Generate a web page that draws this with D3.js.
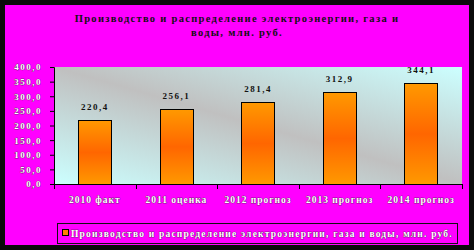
<!DOCTYPE html>
<html>
<head>
<meta charset="utf-8">
<script src="https://cdn.jsdelivr.net/npm/d3@7"></script>
<style>
  body { margin:0; padding:0; background:#000; }
  svg { display:block; }
  .lbl { font-family:"Liberation Serif", serif; font-weight:bold; }
</style>
</head>
<body>
<div id="chart"></div>
<script>
var categories = ["2010 факт", "2011 оценка", "2012 прогноз", "2013 прогноз", "2014 прогноз"];
var values = [220.4, 256.1, 281.4, 312.9, 344.1];
var y_ticks = [0, 50, 100, 150, 200, 250, 300, 350, 400];
var title_lines = ["Производство и распределение электроэнергии, газа и", "воды, млн. руб."];
var series_name = "Производство и распределение электроэнергии, газа и воды, млн. руб.";

var width = 474, height = 250;
var plot_left = 54, plot_right = 462, plot_top = 67, plot_bottom = 184;

var svg = d3.select("#chart").append("svg")
    .attr("width", width)
    .attr("height", height);

var defs = svg.append("defs");

// plot area background: cyan corners, grey diagonal
var bg = defs.append("linearGradient").attr("id", "bg")
    .attr("x1", 0).attr("y1", 1).attr("x2", 1).attr("y2", 0);
bg.append("stop").attr("offset", 0).attr("stop-color", "#ccffff");
bg.append("stop").attr("offset", 0.5).attr("stop-color", "#c0c0c0");
bg.append("stop").attr("offset", 1).attr("stop-color", "#ccffff");

var bar_grad = defs.append("linearGradient").attr("id", "bar")
    .attr("x1", 0).attr("y1", 0).attr("x2", 0).attr("y2", 1);
bar_grad.append("stop").attr("offset", 0).attr("stop-color", "#ff9900");
bar_grad.append("stop").attr("offset", 0.5).attr("stop-color", "#ff6600");
bar_grad.append("stop").attr("offset", 1).attr("stop-color", "#ff9900");

svg.append("rect")
    .attr("x", 0).attr("y", 0)
    .attr("width", width).attr("height", height)
    .attr("fill", "#0a0a0a");
svg.append("rect")
    .attr("x", 5).attr("y", 5)
    .attr("width", 464).attr("height", 240)
    .attr("fill", "#ff00ff");

// title
svg.append("text")
    .attr("class", "lbl")
    .attr("text-anchor", "middle")
    .attr("font-size", 10.5)
    .attr("letter-spacing", 1.3)
    .attr("fill", "#111")
    .selectAll("tspan")
    .data(title_lines)
    .enter().append("tspan")
        .attr("x", 237)
        .attr("y", function(d, i) { return 22 + i * 14; })
        .text(function(d) { return d; });

var x = d3.scaleBand()
    .domain(categories)
    .range([plot_left, plot_right])
    .paddingInner(0.59)
    .paddingOuter(0.295);

var y = d3.scaleLinear()
    .domain([0, 400])
    .range([plot_bottom, plot_top]);

svg.append("rect")
    .attr("x", plot_left).attr("y", plot_top)
    .attr("width", plot_right - plot_left).attr("height", plot_bottom - plot_top)
    .attr("fill", "url(#bg)");

svg.selectAll(".bar")
    .data(values)
    .enter().append("rect")
        .attr("class", "bar")
        .attr("x", function(d, i) { return Math.round(x(categories[i])) + 0.5; })
        .attr("y", function(d) { return Math.round(y(d)) + 0.5; })
        .attr("width", Math.round(x.bandwidth()))
        .attr("height", function(d) { return plot_bottom - Math.round(y(d)); })
        .attr("fill", "url(#bar)")
        .attr("stroke", "#000")
        .attr("stroke-width", 1);

var fmt = function(v) { return d3.format(".1f")(v).replace(".", ","); };

svg.selectAll(".val")
    .data(values)
    .enter().append("text")
        .attr("class", "lbl val")
        .attr("x", function(d, i) { return x(categories[i]) + x.bandwidth() / 2; })
        .attr("y", function(d) { return y(d) - 10; })
        .attr("text-anchor", "middle")
        .attr("font-size", 9)
        .attr("letter-spacing", 1.5)
        .attr("fill", "#111")
        .text(fmt);

// y axis
var y_axis = d3.axisLeft(y)
    .tickValues(y_ticks)
    .tickSize(4)
    .tickFormat(fmt);
var gy = svg.append("g")
    .attr("transform", "translate(" + plot_left + ",0)")
    .call(y_axis);
gy.select(".domain").attr("stroke", "#000");
gy.selectAll(".tick line").attr("stroke", "#000");
gy.selectAll(".tick text")
    .attr("class", "lbl")
    .attr("x", -12)
    .attr("font-size", 9)
    .attr("letter-spacing", 1.5)
    .attr("fill", "#fff")
    .attr("stroke", "#222")
    .attr("stroke-width", 0.5)
    .attr("paint-order", "stroke");

// x axis with ticks between categories
var boundaries = d3.range(categories.length + 1).map(function(i) {
  return plot_left + i * x.step();
});
svg.append("line")
    .attr("x1", plot_left).attr("x2", plot_right)
    .attr("y1", plot_bottom + 0.5).attr("y2", plot_bottom + 0.5)
    .attr("stroke", "#000");
svg.selectAll(".xtick")
    .data(boundaries)
    .enter().append("line")
        .attr("x1", function(d) { return Math.round(d) + 0.5; })
        .attr("x2", function(d) { return Math.round(d) + 0.5; })
        .attr("y1", plot_bottom).attr("y2", plot_bottom + 5)
        .attr("stroke", "#000");

svg.selectAll(".xlab")
    .data(categories)
    .enter().append("text")
        .attr("class", "lbl xlab")
        .attr("x", function(d) { return x(d) + x.bandwidth() / 2; })
        .attr("y", 203)
        .attr("text-anchor", "middle")
        .attr("font-size", 9.5)
        .attr("letter-spacing", 1)
        .attr("fill", "#fff")
        .attr("stroke", "#222")
        .attr("stroke-width", 0.5)
        .attr("paint-order", "stroke")
        .text(function(d) { return d; });

// legend
svg.append("rect")
    .attr("x", 57.5).attr("y", 223.5)
    .attr("width", 400).attr("height", 20)
    .attr("fill", "none")
    .attr("stroke", "#111");
svg.append("rect")
    .attr("x", 62.5).attr("y", 229.5)
    .attr("width", 6).attr("height", 6)
    .attr("fill", "#ff8000")
    .attr("stroke", "#000");
svg.append("text")
    .attr("class", "lbl")
    .attr("x", 71)
    .attr("y", 237)
    .attr("font-size", 9.5)
    .attr("letter-spacing", 1.2)
    .attr("fill", "#fff")
    .attr("stroke", "#222")
    .attr("stroke-width", 0.5)
    .attr("paint-order", "stroke")
    .text(series_name);
</script>
</body>
</html>
